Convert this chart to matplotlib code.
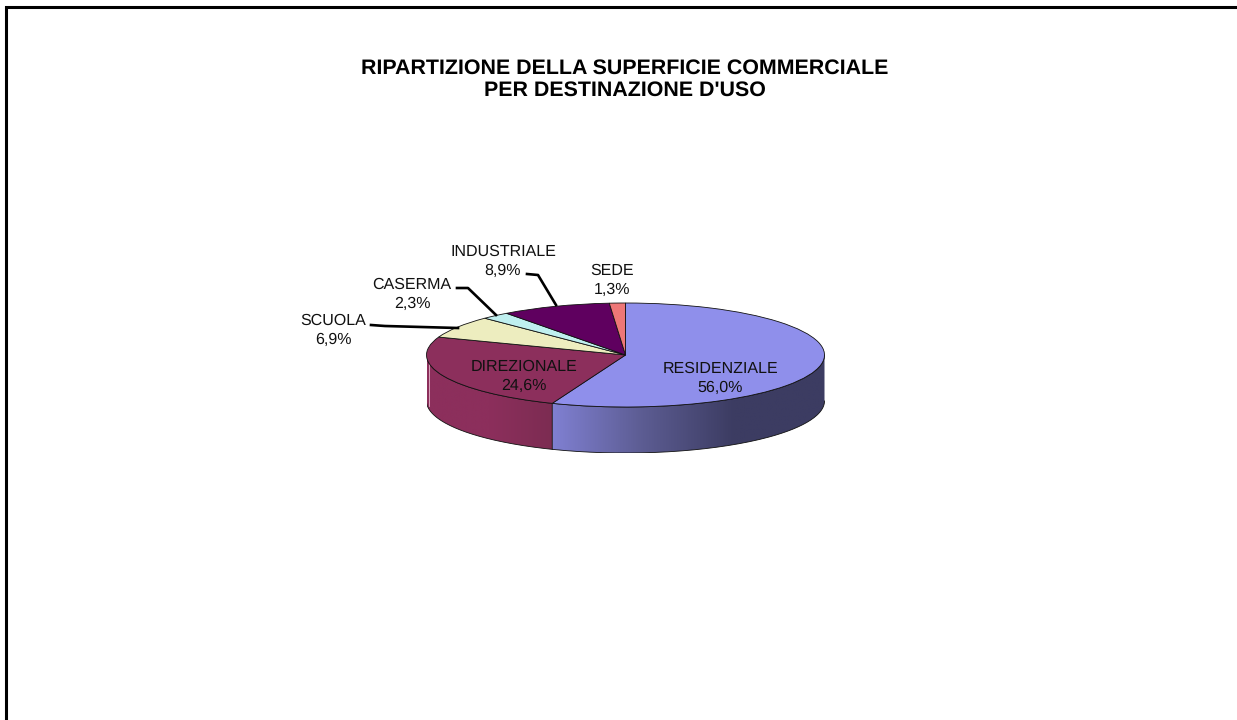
import matplotlib
matplotlib.use('Agg')
import matplotlib.pyplot as plt
import numpy as np
from matplotlib.colors import LinearSegmentedColormap
from matplotlib.patches import Polygon

plt.rcParams['font.family'] = ['Liberation Sans', 'DejaVu Sans']
plt.rcParams['text.hinting'] = 'no_hinting'

W, H = 1237, 720

categories = ['RESIDENZIALE', 'DIREZIONALE', 'SCUOLA', 'CASERMA', 'INDUSTRIALE', 'SEDE']
shares = [56.0, 24.6, 6.9, 2.3, 8.9, 1.3]
share_labels = ['56,0%', '24,6%', '6,9%', '2,3%', '8,9%', '1,3%']
colors = ['#8F8FEB', '#8C2F5C', '#EDEDBF', '#BFEFEF', '#5F005F', '#EE7777']
title = "RIPARTIZIONE DELLA SUPERFICIE COMMERCIALE\nPER DESTINAZIONE D'USO"

fig = plt.figure(figsize=(W / 100, H / 100), dpi=100)

# pie geometry in pixels
cx, cy, rx, ry, depth = 625.5, 355, 199, 52, 46
drop = depth / ry
ax = fig.add_axes([(cx - rx) / W, 1 - (cy + ry + depth) / H, 2 * rx / W, (2 * ry + depth) / H])
ax.pie(shares, colors=colors, startangle=90, counterclock=False, radius=1,
       wedgeprops={'linewidth': 0.6, 'edgecolor': '#111111'})


def side(start, end, cols):
    # wall of the slice between two angles, clockwise from the top
    t = np.radians(np.linspace(start, end, 120))
    xs, ys = np.sin(t), np.cos(t)
    pts = np.r_[np.c_[xs, ys], np.c_[xs[::-1], ys[::-1] - drop]]
    poly = Polygon(pts, closed=True, fc='none', ec='none', transform=ax.transData)
    ax.add_patch(poly)
    cmap = LinearSegmentedColormap.from_list('wall', cols)
    im = ax.imshow(np.linspace(0, 1, 256)[None, :], cmap=cmap, aspect='auto', zorder=0.5,
                   extent=[xs.min(), xs.max(), -1 - drop, 1])
    im.set_clip_path(poly)
    ax.plot(pts[:, 0], pts[:, 1], color='#111111', lw=0.6, zorder=0.6)


edges = np.cumsum(shares) / sum(shares) * 360
side(90, edges[0], ['#8080D2', '#5C5C92', '#3C3C62', '#3C3C62'])
side(edges[0], 270, ['#8C2F5C', '#8C2F5C', '#7C2C52'])
ax.set_aspect('auto')
ax.set_xlim(-1, 1)
ax.set_ylim(-1 - drop, 1)
# pale highlight on the left end of the wall
ax.plot([-0.985, -0.985], [-0.1, -0.1 - drop], color='#E8B8CC', lw=0.6, zorder=0.7)

# overlay in pixel coordinates for the frame, labels and leaders
top = fig.add_axes([0, 0, 1, 1])
top.set_xlim(0, W)
top.set_ylim(H, 0)
top.axis('off')
top.plot([6, 6, W + 5], [H + 5, 7, 7], color='black', lw=2.2, solid_joinstyle='miter')

top.text(624.5, 79, title, ha='center', va='center', fontsize=15.4, fontweight='bold',
         linespacing=1.15, color='black')
label_pos = [(720.5, 378), (524, 376), (333, 330), (412, 294), (503, 261.5), (612.5, 280)]
for name, pct, (x, y) in zip(categories, share_labels, label_pos):
    top.text(x, y, name + '\n' + pct, ha='center', va='center', fontsize=11.5, linespacing=1.36,
             color='#111111')

# leader lines
leaders = [
    ([371, 385, 458], [325, 326, 328]),
    ([457, 468, 496], [288, 288, 315]),
    ([527, 538, 556], [274, 275, 305]),
]
for xs, ys in leaders:
    top.plot(xs, ys, color='black', lw=1.9)

fig.savefig('out.png', dpi=100)
